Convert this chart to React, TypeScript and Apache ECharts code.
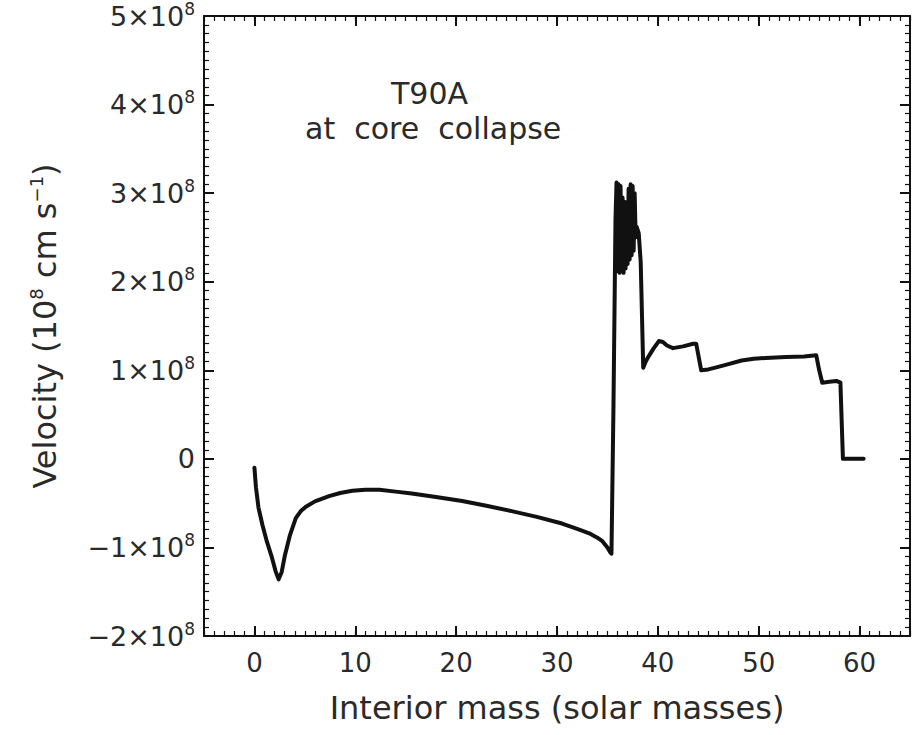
import React, { useEffect, useRef } from "react";
import * as echarts from "echarts";

// Interior mass (solar masses), velocity in units of 1e8 cm/s
const massCore: number[] = [0, 0.15, 0.4, 0.8, 1.2, 1.7, 2.1, 2.4, 2.7, 3.0, 3.5, 4.1, 4.6, 5.1, 6.0, 7.4, 8.5, 9.7, 11.0, 12.4, 14.0, 15.6, 18.0, 20.6, 23.0, 25.5, 28.0, 30.5, 32.0, 33.2, 34.0, 34.5, 35.0, 35.25, 35.4];
const velCore: number[] = [-0.1, -0.32, -0.55, -0.75, -0.92, -1.1, -1.27, -1.36, -1.28, -1.1, -0.87, -0.67, -0.59, -0.54, -0.48, -0.42, -0.385, -0.36, -0.35, -0.35, -0.37, -0.39, -0.43, -0.475, -0.53, -0.59, -0.655, -0.73, -0.79, -0.84, -0.89, -0.93, -1.0, -1.05, -1.07];
const massShock: number[] = [35.6, 35.8, 35.9, 36.0, 36.1, 36.2, 36.3, 36.4, 36.5, 36.6, 36.7, 36.8, 36.9, 37.0, 37.1, 37.2, 37.3, 37.4, 37.5, 37.6, 37.7, 37.8, 37.9, 38.1, 38.3];
const velShock: number[] = [0.6, 2.7, 3.12, 2.12, 3.1, 2.1, 3.08, 2.12, 2.95, 2.1, 2.9, 2.15, 2.9, 2.2, 3.05, 2.25, 3.1, 2.3, 3.08, 2.35, 3.0, 2.5, 2.62, 2.55, 2.22];
const massEnvelope: number[] = [38.55, 38.8, 39.1, 39.6, 40.1, 40.5, 40.9, 41.5, 42.5, 43.5, 43.8, 44.3, 45.0, 45.7, 47.0, 48.3, 49.5, 50.7, 52.7, 54.5, 55.7, 56.0, 56.3, 57.0, 57.7, 58.1, 58.35, 60.4];
const velEnvelope: number[] = [1.03, 1.1, 1.16, 1.25, 1.33, 1.32, 1.28, 1.25, 1.27, 1.3, 1.3, 1.0, 1.01, 1.03, 1.07, 1.11, 1.13, 1.14, 1.15, 1.155, 1.17, 1.0, 0.86, 0.87, 0.88, 0.86, 0.0, 0.0];

const xTicks: number[] = [0, 10, 20, 30, 40, 50, 60];
const yTickExp = 8;

const FONT = "DejaVu Sans";
const TEXT = "#2a2a2a";

export default function App() {
  const ref = useRef<HTMLDivElement>(null);
  useEffect(() => {
    if (!ref.current) return;
    const chart = echarts.init(ref.current, undefined, { renderer: "svg" });
    const mass = [...massCore, ...massShock, ...massEnvelope];
    const vel = [...velCore, ...velShock, ...velEnvelope];
    const data = mass.map((m, i) => [m, vel[i] * 1e8]);

    const axisLineStyle = { color: "#111", width: 2 };
    const majorTick = { color: "#111", width: 2 };
    const minorTickStyle = { color: "#111", width: 1.2 };
    const yFmt = (v: number) => {
      if (Math.abs(v) < 1) return "{m|0}";
      const n = Math.round(v / 1e8);
      const s = n < 0 ? "\u2212" + Math.abs(n) : String(n);
      return `{m|${s}\u00d710}{s|${yTickExp}}`;
    };
    const rich = {
      m: { fontSize: 27, fontFamily: FONT, color: TEXT, lineHeight: 32 },
      s: { fontSize: 17, fontFamily: FONT, color: TEXT, lineHeight: 32, padding: [0, 0, 15, 0] },
    };

    const xBase = { type: "value", min: -5, max: 65, splitLine: { show: false } };
    const xMajor = (pos: string, labels: boolean) => ({
      ...xBase,
      position: pos,
      axisLine: { show: true, lineStyle: axisLineStyle, onZero: false },
      axisTick: { show: true, inside: true, length: 10, lineStyle: majorTick, customValues: xTicks },
      axisLabel: labels
        ? { show: true, margin: 14, fontSize: 26, fontFamily: FONT, color: TEXT, customValues: xTicks }
        : { show: false },
    });
    const xMinor = (pos: string) => ({
      ...xBase,
      position: pos,
      interval: 1,
      axisLine: { show: false, onZero: false },
      axisTick: { show: true, inside: true, length: 5, lineStyle: minorTickStyle },
      axisLabel: { show: false },
    });

    chart.setOption({
      animation: false,
      backgroundColor: "#fff",
      grid: { left: 204, right: 10, top: 16, bottom: 99, containLabel: false },
      graphic: [
        { type: "text", left: 391, top: 78, style: { text: "T90A", font: `30px '${FONT}'`, fill: TEXT } },
        { type: "text", left: 305, top: 113, style: { text: "at  core  collapse", font: `30px '${FONT}'`, fill: TEXT } },
      ],
      xAxis: [
        {
          ...xMajor("bottom", true),
          name: "Interior mass (solar masses)", nameLocation: "middle", nameGap: 56,
          nameTextStyle: { fontSize: 32, fontFamily: FONT, color: TEXT },
        },
        xMajor("top", false),
        xMinor("bottom"),
        xMinor("top"),
      ],
      yAxis: [
        {
          type: "value", position: "left", min: -2e8, max: 5e8, interval: 1e8,
          axisLine: { show: true, lineStyle: axisLineStyle, onZero: false },
          axisTick: { show: true, inside: true, length: 10, lineStyle: majorTick },
          minorTick: { show: true, splitNumber: 10, length: 5, lineStyle: minorTickStyle },
          splitLine: { show: false },
          axisLabel: { margin: 9, formatter: yFmt, rich },
          name: "{m|Velocity (10}{s|8}{m| cm s}{s|\u22121}{m|)}",
          nameLocation: "middle", nameGap: 140, nameRotate: 90,
          nameTextStyle: {
            rich: {
              m: { fontSize: 32, fontFamily: FONT, color: TEXT, lineHeight: 38 },
              s: { fontSize: 18, fontFamily: FONT, color: TEXT, lineHeight: 38, padding: [0, 0, 17, 0] },
            },
          },
        },
        {
          type: "value", position: "right", min: -2e8, max: 5e8, interval: 1e8,
          axisLine: { show: true, lineStyle: axisLineStyle, onZero: false },
          axisTick: { show: true, inside: true, length: 10, lineStyle: majorTick },
          minorTick: { show: true, splitNumber: 10, length: 5, lineStyle: minorTickStyle },
          splitLine: { show: false },
          axisLabel: { show: false },
        },
      ],
      series: [
        {
          type: "line", xAxisIndex: 0, yAxisIndex: 0, data,
          showSymbol: false, symbol: "none",
          lineStyle: { color: "#111", width: 4, join: "round", cap: "round" },
        },
      ],
    });
    return () => chart.dispose();
  }, []);
  return (
    <div
      ref={ref}
      style={{ position: "fixed", left: 0, top: 0, width: 920, height: 735, background: "#fff" }}
    />
  );
}
